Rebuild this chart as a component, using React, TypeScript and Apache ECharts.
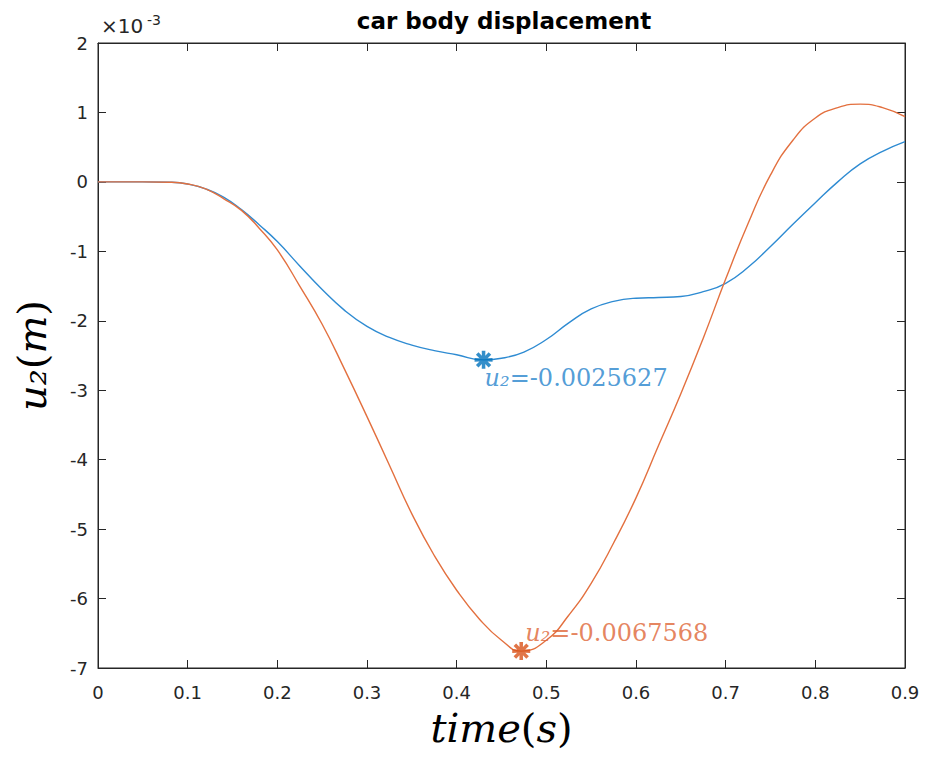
import React, { useEffect, useRef } from 'react';
import * as echarts from 'echarts';

// time (s)
const TIME_BLUE = [0, 0.05, 0.08, 0.1, 0.12, 0.14, 0.16, 0.18, 0.2, 0.225, 0.25, 0.275, 0.3, 0.325, 0.35, 0.375, 0.4, 0.43, 0.45, 0.475, 0.5, 0.525, 0.55, 0.575, 0.6, 0.625, 0.65, 0.675, 0.7, 0.725, 0.75, 0.775, 0.8, 0.825, 0.85, 0.875, 0.9];
// u2 in units of 1e-3 m
const U2_BLUE = [0, 0, -0.005, -0.03, -0.1, -0.22, -0.4, -0.62, -0.86, -1.21, -1.55, -1.85, -2.08, -2.24, -2.35, -2.43, -2.49, -2.5627, -2.54, -2.45, -2.27, -2.03, -1.83, -1.72, -1.675, -1.665, -1.65, -1.58, -1.46, -1.23, -0.93, -0.61, -0.3, 0.0, 0.26, 0.44, 0.58];

const TIME_ORANGE = [0, 0.05, 0.08, 0.1, 0.12, 0.14, 0.16, 0.18, 0.2, 0.225, 0.25, 0.275, 0.3, 0.325, 0.35, 0.375, 0.4, 0.425, 0.45, 0.472, 0.5, 0.525, 0.55, 0.575, 0.6, 0.625, 0.65, 0.675, 0.7, 0.725, 0.75, 0.775, 0.8, 0.825, 0.85, 0.875, 0.9];
const U2_ORANGE = [0, 0, -0.005, -0.03, -0.1, -0.24, -0.41, -0.67, -0.98, -1.5, -2.05, -2.7, -3.38, -4.08, -4.78, -5.38, -5.88, -6.29, -6.6, -6.7568, -6.6, -6.24, -5.78, -5.2, -4.55, -3.8, -3.05, -2.25, -1.4, -0.6, 0.1, 0.6, 0.92, 1.07, 1.12, 1.07, 0.94];

// marked minima (time, u2 in 1e-3 m)
const MIN_BLUE = [0.43, -2.5627];
const MIN_ORANGE = [0.472, -6.7568];

const X_MIN = 0, X_MAX = 0.9, X_STEP = 0.1;
const Y_MIN = -7, Y_MAX = 2, Y_STEP = 1;

const TITLE = 'car body displacement';

function asteriskSymbol(): string {
  const pts: string[] = [];
  const R = 50, r = 24, d = 0.2;
  for (let k = 0; k < 8; k++) {
    const a = (k * Math.PI) / 4;
    const p1 = [R + R * Math.cos(a - d), R + R * Math.sin(a - d)];
    const p2 = [R + R * Math.cos(a + d), R + R * Math.sin(a + d)];
    const ai = a + Math.PI / 8;
    const p3 = [R + r * Math.cos(ai), R + r * Math.sin(ai)];
    pts.push(p1.map((v) => v.toFixed(2)).join(' '));
    pts.push(p2.map((v) => v.toFixed(2)).join(' '));
    pts.push(p3.map((v) => v.toFixed(2)).join(' '));
  }
  return 'path://M' + pts.join(' L') + ' Z';
}

const zip = (xs: number[], ys: number[]) => xs.map((x, i) => [x, ys[i]]);

export default function App() {
  const ref = useRef<HTMLDivElement>(null);
  useEffect(() => {
    document.body.style.margin = '0';
    const chart = echarts.init(ref.current!, null, { renderer: 'svg' });
    const AX = '#262626';
    const sym = asteriskSymbol();
    const latexRich = (color: string, size: number) => ({
      i: { fontFamily: 'DejaVu Serif', fontStyle: 'italic', fontSize: size, color },
      n: { fontFamily: 'DejaVu Serif', fontSize: size, color },
    });
    const axisCommon = {
      axisLine: { show: true, onZero: false, lineStyle: { color: AX, width: 1 } },
      axisTick: { show: true, inside: true, length: 8, lineStyle: { color: AX, width: 1 } },
      splitLine: { show: false },
    };
    chart.setOption({
      animation: false,
      backgroundColor: '#fff',
      title: {
        text: TITLE,
        left: 504,
        textAlign: 'center',
        top: 9,
        padding: 0,
        textStyle: { fontFamily: 'DejaVu Sans', fontWeight: 'bold', fontSize: 23, color: '#000' },
      },
      grid: { left: 98, right: 23, top: 43, bottom: 95, show: true, borderColor: AX, borderWidth: 1 },
      xAxis: [
        {
          type: 'value', min: X_MIN, max: X_MAX, interval: X_STEP, position: 'bottom',
          ...axisCommon,
          axisLabel: {
            color: AX, fontFamily: 'DejaVu Sans', fontSize: 18, margin: 15,
            formatter: (v: number) => String(Number(v.toFixed(1))),
          },
          name: '{i|time}{n|(}{i|s}{n|)}',
          nameLocation: 'middle',
          nameGap: 40,
          nameTextStyle: { rich: latexRich('#000', 40) },
        },
        {
          type: 'value', min: X_MIN, max: X_MAX, interval: X_STEP, position: 'top',
          ...axisCommon,
          axisLabel: { show: false },
        },
      ],
      yAxis: [
        {
          type: 'value', min: Y_MIN, max: Y_MAX, interval: Y_STEP, position: 'left',
          ...axisCommon,
          axisLabel: {
            color: AX, fontFamily: 'DejaVu Sans', fontSize: 18, margin: 10,
            formatter: (v: number) => String(Math.round(v)),
          },
          name: '{i|u₂}{n|(}{i|m}{n|)}',
          nameLocation: 'middle',
          nameRotate: 90,
          nameGap: 46,
          nameTextStyle: { rich: latexRich('#000', 40) },
        },
        {
          type: 'value', min: Y_MIN, max: Y_MAX, interval: Y_STEP, position: 'right',
          ...axisCommon,
          axisLabel: { show: false },
        },
      ],
      graphic: [
        { type: 'text', left: 101, top: 16, style: { text: '×10', fontFamily: 'DejaVu Sans', fontSize: 20, fill: AX } },
        { type: 'text', left: 147, top: 13, style: { text: '-3', fontFamily: 'DejaVu Sans', fontSize: 14, fill: AX } },
      ],
      series: [
        {
          type: 'line', data: zip(TIME_BLUE, U2_BLUE), showSymbol: false, smooth: 0.5,
          lineStyle: { color: '#2e8bd2', width: 1.4 }, itemStyle: { color: '#2e8bd2' }, z: 2,
        },
        {
          type: 'line', data: zip(TIME_ORANGE, U2_ORANGE), showSymbol: false, smooth: 0.5,
          lineStyle: { color: '#e3703f', width: 1.4 }, itemStyle: { color: '#e3703f' }, z: 2,
        },
        {
          type: 'scatter', data: [MIN_BLUE], symbol: sym, symbolSize: 18, z: 5,
          itemStyle: { color: '#0072BD' },
          label: {
            show: true, position: 'right', distance: 0, offset: [-8, 18],
            formatter: (p: any) => `{i|u₂}{n|=${(p.value[1] / 1000).toFixed(7)}}`,
            rich: latexRich('#2683cc', 24),
          },
        },
        {
          type: 'scatter', data: [MIN_ORANGE], symbol: sym, symbolSize: 18, z: 5,
          itemStyle: { color: '#D95319' },
          label: {
            show: true, position: 'right', distance: 0, offset: [-5, -18],
            formatter: (p: any) => `{i|u₂}{n|=${(p.value[1] / 1000).toFixed(7)}}`,
            rich: latexRich('#de6536', 24),
          },
        },
      ],
    });
    return () => chart.dispose();
  }, []);
  return <div ref={ref} style={{ position: 'fixed', left: 0, top: 0, width: 928, height: 763 }} />;
}
